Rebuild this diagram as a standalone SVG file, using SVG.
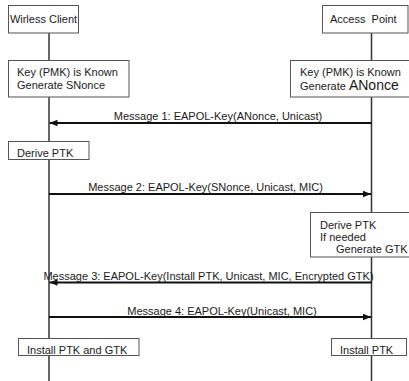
<svg xmlns="http://www.w3.org/2000/svg" width="409" height="381" viewBox="0 0 409 381">
<style>
text{font-family:"Liberation Sans",Arial,sans-serif;font-size:11px;fill:#1a1a1a}
.box{fill:#fff;stroke:#555;stroke-width:1}
.life{stroke:#333;stroke-width:1.5;fill:none}
.msg{stroke:#111;stroke-width:2;fill:none}
.mid{text-anchor:middle}
</style>
<defs>
<marker id="ah" viewBox="0 0 10 10" refX="10" refY="5" markerWidth="8" markerHeight="8" markerUnits="userSpaceOnUse" orient="auto">
<path d="M0,1 L10,5 L0,9 Z" fill="#111"/>
</marker>
</defs>
<rect width="409" height="381" fill="#fff"/>
<g id="lifelines">
<line class="life" x1="49" y1="33" x2="49" y2="381"/>
<line class="life" x1="371.5" y1="33" x2="371.5" y2="381"/>
</g>
<g id="connectors">
<g id="msg1">
<line class="msg" x1="371.5" y1="123" x2="49.5" y2="123" marker-end="url(#ah)"/>
<text class="mid" x="218" y="120">Message 1: EAPOL-Key(ANonce, Unicast)</text>
</g>
<g id="msg2">
<line class="msg" x1="49" y1="194" x2="371" y2="194" marker-end="url(#ah)"/>
<text class="mid" x="205.5" y="191">Message 2: EAPOL-Key(SNonce, Unicast, MIC)</text>
</g>
<g id="msg3">
<line class="msg" x1="371.5" y1="282.5" x2="49.5" y2="282.5" marker-end="url(#ah)"/>
<text class="mid" x="208.5" y="280">Message 3: EAPOL-Key(Install PTK, Unicast, MIC, Encrypted GTK)</text>
</g>
<g id="msg4">
<line class="msg" x1="49" y1="317" x2="371" y2="317" marker-end="url(#ah)"/>
<text class="mid" x="222" y="314.5">Message 4: EAPOL-Key(Unicast, MIC)</text>
</g>
</g>
<g id="wireless-client">
<rect class="box" x="8.5" y="5.5" width="70" height="27.5"/>
<text class="mid" x="43.5" y="22.5">Wirless Client</text>
</g>
<g id="access-point">
<rect class="box" x="322.5" y="5.5" width="85.5" height="27.5"/>
<text x="330" y="22.5" style="white-space:pre">Access  Point</text>
</g>
<g id="client-key">
<rect class="box" x="8.5" y="60.5" width="120.5" height="36.5"/>
<text x="17" y="76">Key (PMK) is Known</text>
<text x="17" y="89">Generate SNonce</text>
</g>
<g id="ap-key">
<rect class="box" x="290.5" y="60.5" width="125" height="36.5"/>
<text x="300" y="76">Key (PMK) is Known</text>
<text x="300" y="90">Generate <tspan style="font-size:14px">ANonce</tspan></text>
</g>
<g id="client-derive">
<rect class="box" x="8.5" y="141.5" width="80.5" height="18"/>
<text x="17" y="157">Derive PTK</text>
</g>
<g id="ap-derive">
<rect class="box" x="310.5" y="212.5" width="105" height="44.5"/>
<text x="320" y="229">Derive PTK</text>
<text x="320" y="241">If needed</text>
<text x="336" y="253">Generate GTK</text>
</g>
<g id="client-install">
<rect class="box" x="18.5" y="338.5" width="120.5" height="17"/>
<text x="27" y="353.5">Install PTK and GTK</text>
</g>
<g id="ap-install">
<rect class="box" x="331.5" y="338.5" width="75" height="17"/>
<text x="340" y="353.5">Install PTK</text>
</g>
</svg>
